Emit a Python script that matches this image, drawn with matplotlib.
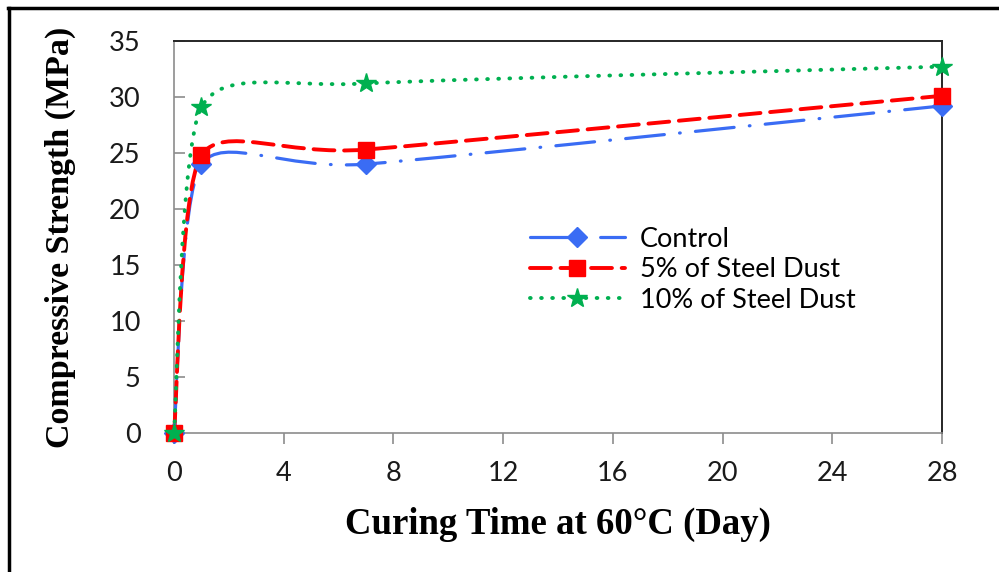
import matplotlib as mp
mp.use("Agg")
import matplotlib.pyplot as pyplot
import numpy as np
from matplotlib.path import Path
from matplotlib.patches import PathPatch
from matplotlib.lines import Line2D

mp.rcParams['lines.scale_dashes'] = False

# curing days and compressive strength (MPa)
days = [0, 1, 7, 28]
control = [0, 24.0, 24.0, 29.2]
steel_5 = [0, 24.8, 25.3, 30.1]
steel_10 = [0, 29.1, 31.2, 32.7]

labels = ["Control", "5% of Steel Dust", "10% of Steel Dust"]
xticks = [0, 4, 8, 12, 16, 20, 24, 28]
yticks = [0, 5, 10, 15, 20, 25, 30, 35]

# <series> : [color, dash pattern, marker, marker size, line width]
styles = [
	("#3a6cf4", (0, (28, 11, 0.5, 11)), "D", 10, 2.3),
	("#ff0000", (0, (15, 7)), "s", 11, 2.8),
	("#00b050", (0, (0.5, 7.5)), "*", 15, 2.8),
]

def smooth_path(x, y, k=1 / 9):
	# excel style smoothed line: bezier segments through every point
	pts = np.column_stack([x, y]).astype(float)
	n = len(pts)
	verts = [pts[0]]
	codes = [Path.MOVETO]
	for i in range(n - 1):
		p0 = pts[max(i - 1, 0)]
		p1 = pts[i]
		p2 = pts[i + 1]
		p3 = pts[min(i + 2, n - 1)]
		verts += [p1 + (p2 - p0) * k, p2 - (p3 - p1) * k, p2]
		codes += [Path.CURVE4] * 3
	return Path(verts, codes)

fig = pyplot.figure(figsize=(9.99, 5.72), dpi=100)
ax = fig.add_axes([0.1742, 0.243, 0.7688, 0.6855])

handles = []
for series, (color, ls, marker, ms, lw) in zip([control, steel_5, steel_10], styles):
	patch = PathPatch(smooth_path(days, series), fill=False, edgecolor=color,
		linewidth=lw, linestyle=ls, capstyle="round", clip_on=False, zorder=3)
	ax.add_patch(patch)
	ax.plot(days, series, linestyle="none", marker=marker, markersize=ms,
		color=color, clip_on=False, zorder=4)
	handles.append(Line2D([], [], color=color, linestyle=ls, linewidth=lw,
		dash_capstyle="round", marker=marker, markersize=ms))

ax.set_xlim(0, 28)
ax.set_ylim(0, 35)
ax.set_xticks(xticks)
ax.set_yticks(yticks)

for side in ["left", "bottom"]:
	ax.spines[side].set_color("#8c8c8c")
	ax.spines[side].set_linewidth(1.2)
for side in ["top", "right"]:
	ax.spines[side].set_color("#262626")
	ax.spines[side].set_linewidth(1.4)

ax.tick_params(axis="y", direction="in", length=8, width=1.2, color="#8c8c8c",
	pad=24, labelsize=19.5)
ax.tick_params(axis="x", direction="out", length=8, width=1.2, color="#8c8c8c",
	pad=12, labelsize=19.5)
for lab in ax.get_xticklabels() + ax.get_yticklabels():
	lab.set_family("Lato")
	lab.set_color("#1a1a1a")

ax.set_xlabel("Curing Time at 60\u00b0C (Day)", family="Liberation Serif",
	fontweight="bold", fontsize=26.5, labelpad=15)
ax.set_ylabel("Compressive Strength (MPa)", family="Liberation Serif",
	fontweight="bold", fontsize=24.5, labelpad=24)

leg = ax.legend(handles, labels, loc="upper left", bbox_to_anchor=(0.4635, 0.526),
	frameon=False, borderpad=0, borderaxespad=0, handlelength=3.5,
	handletextpad=0.55, labelspacing=0.2,
	prop={"family": "Lato", "size": 19.5}, numpoints=1)

# outer frame of the original picture (left and top edges)
fig.add_artist(Line2D([0.009, 0.009], [0, 0.986], color="black", linewidth=2.5,
	transform=fig.transFigure))
fig.add_artist(Line2D([0.008, 1.0], [0.986, 0.986], color="black", linewidth=2.5,
	transform=fig.transFigure))

fig.savefig("out.png", dpi=100)
